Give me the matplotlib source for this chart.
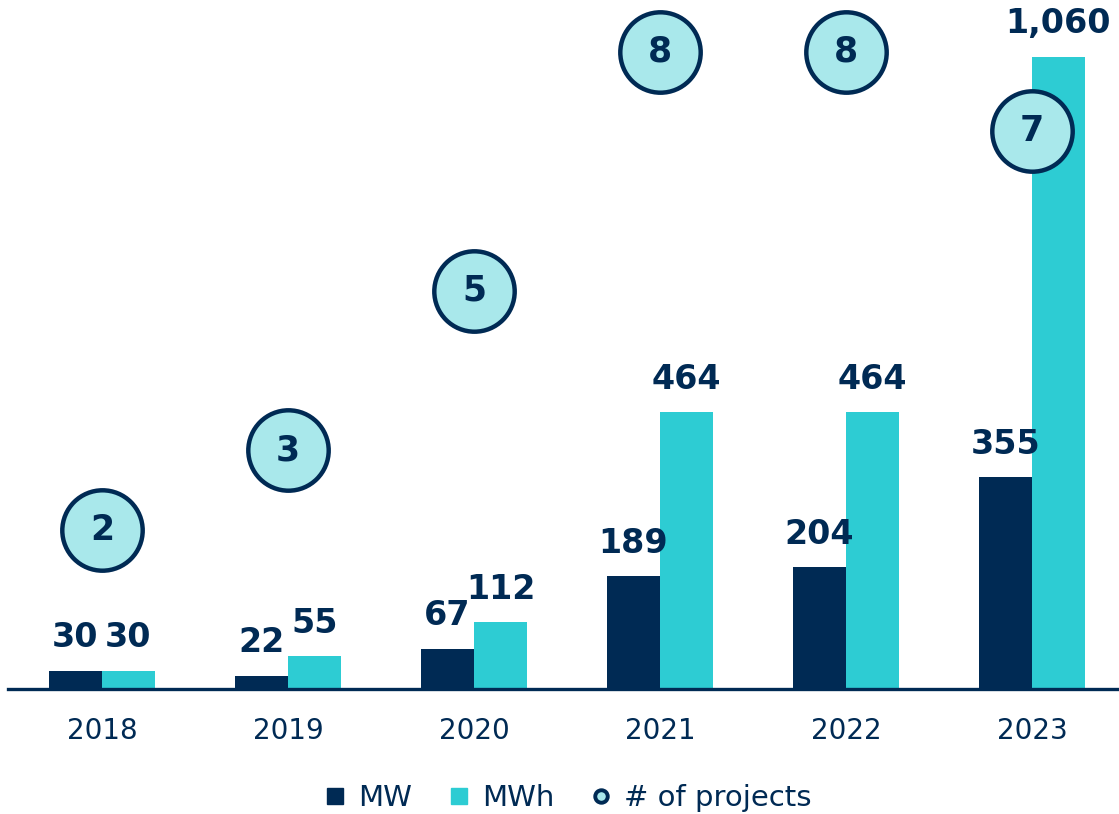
import numpy as np
import matplotlib.pyplot as plt
from matplotlib.lines import Line2D

years = ["2018", "2019", "2020", "2021", "2022", "2023"]
mw = [30, 22, 67, 189, 204, 355]
mwh = [30, 55, 112, 464, 464, 1060]
projects = [2, 3, 5, 8, 8, 7]

navy = "#002A54"
cyan = "#2DCCD3"
light = "#A9E8EB"

plt.rcParams["font.family"] = ["DejaVu Sans"]

fig = plt.figure(figsize=(11.19, 8.14), dpi=100)
ax = fig.add_axes([8 / 1119, 125 / 814, 1 - 8 / 1119, 689 / 814])

x = np.arange(len(years))
w = 0.285
b1 = ax.bar(x - w / 2, mw, w, color=navy)
b2 = ax.bar(x + w / 2, mwh, w, color=cyan)

for bars, vals in [(b1, mw), (b2, mwh)]:
    for rect, v in zip(bars, vals):
        ax.annotate(f"{v:,}", (rect.get_x() + rect.get_width() / 2, v),
                    xytext=(0, 12), textcoords="offset points",
                    ha="center", va="bottom", fontsize=24,
                    fontweight="bold", color=navy)

ax.set_xlim(-0.505, 5.468)
ax.set_ylim(0, 1155.6)
ax.set_xticks(x)
ax.set_xticklabels(years, fontsize=20, color=navy)
ax.tick_params(axis="x", length=0, pad=20)
ax.set_yticks([])
for s in ["top", "left", "right"]:
    ax.spines[s].set_visible(False)
ax.spines["bottom"].set_color(navy)
ax.spines["bottom"].set_linewidth(2.4)

# project counts on their own scale
ax2 = ax.twinx()
ax2.set_ylim(0, 8.65)
ax2.scatter(x, projects, s=3350, color=light, edgecolor=navy,
            linewidth=3.2, zorder=3)
for xi, p in zip(x, projects):
    ax2.text(xi, p, str(p), ha="center", va="center", fontsize=25,
             fontweight="bold", color=navy, zorder=4)
ax2.set_yticks([])
for s in ax2.spines.values():
    s.set_visible(False)

handles = [
    Line2D([], [], marker="s", ls="", markersize=12, color=navy),
    Line2D([], [], marker="s", ls="", markersize=12, color=cyan),
    Line2D([], [], marker="o", ls="", markersize=9, markerfacecolor=light,
           markeredgecolor=navy, markeredgewidth=2.8),
]
leg = fig.legend(handles, ["MW", "MWh", "# of projects"], loc="center",
                 bbox_to_anchor=(566 / 1119, 1 - 798 / 814), ncol=3,
                 frameon=False, fontsize=21, handletextpad=0.3,
                 columnspacing=1.1, handlelength=1.0)
for t in leg.get_texts():
    t.set_color(navy)

fig.savefig("out.png", dpi=100)
